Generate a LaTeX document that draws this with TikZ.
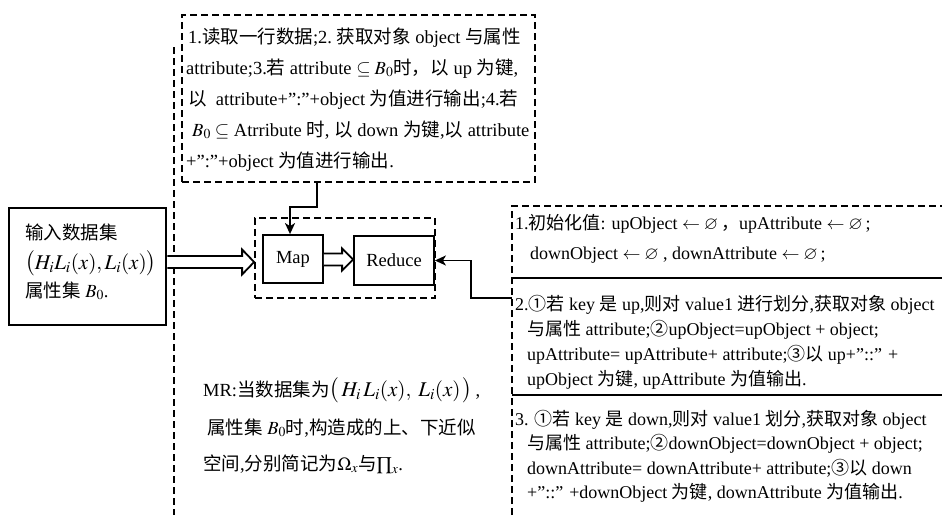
\documentclass[tikz,border=0pt]{standalone}
\usepackage{amssymb}
\usepackage{mathptmx}
\usepackage{fontspec}
\setmainfont{Liberation Serif}
\newfontfamily\cjk{Noto Sans CJK SC}
\newcommand\zh[1]{{\cjk #1}}
\newcommand\fs{\fontsize{18.5}{22}\selectfont}
\newcommand\fr{\fontsize{18}{22}\selectfont}
\newcommand\HLin{{\fontsize{21}{22}\selectfont$\big(H_iL_i(x),L_i(x)\big)$}}
\newcommand\HLsp{{\fontsize{21}{22}\selectfont$\big(\,H_i\,L_i(x),\;L_i(x)\,\big)$}}
\usetikzlibrary{arrows.meta,calc}
\tikzset{
  txt/.style={anchor=base west, inner sep=0pt, font=\fs},
  rtxt/.style={anchor=base west, inner sep=0pt, font=\fr},
  dline/.style={line width=1.8pt, dash pattern=on 7pt off 4pt},
  sbox/.style={draw, line width=1.8pt, inner sep=0pt},
  blockarr/.style={draw, fill=white, line width=1.8pt, line join=miter},
  conn/.style={line width=1.8pt, -{Stealth[length=11pt,width=10pt,inset=3pt]}},
}
\begin{document}
\begin{tikzpicture}[x=1pt,y=-1pt]
\useasboundingbox (0,0) rectangle (942,515);

% long dashed vertical line
\coordinate (vt) at (174,47);
\coordinate (vb) at (174,515);
\draw[dline] (vt) -- (vb);

% top dashed box
\node[draw, dline, minimum width=353pt, minimum height=167pt, inner sep=0pt] (topbox) at (358.5,98.5) {};
\node[txt] (t1) at (188,43) {1.\zh{读取一行数据};2.~\zh{获取对象} object \zh{与属性}};
\node[txt] (t2) at (186,74) {attribute;3.\zh{若} attribute $\subseteq B_0$\zh{时，以} up \zh{为键},};
\node[txt] (t3) at (188,105) {\zh{以}\ \ attribute+”:”+object \zh{为值进行输出};4.\zh{若}};
\node[txt] (t4) at (192,136) {$B_0\subseteq$ Atrribute \zh{时}, \zh{以} down \zh{为键},\zh{以} attribute};
\node[txt] (t5) at (186,167) {+”:”+object \zh{为值进行输出}.};

% input box
\node[sbox, line width=2.6pt, minimum width=157pt, minimum height=117pt] (in) at (87.5,266.5) {};
\node[txt] (i1) at (25,239) {\zh{输入数据集}};
\node[txt] (i2) at (25,269) {\HLin};
\node[txt] (i3) at (25,297) {\zh{属性集} $B_0$.};

% MapReduce dashed box
\node[draw, dline, minimum width=180pt, minimum height=80pt, inner sep=0pt] (mr) at (345,258) {};
\node[sbox, minimum width=60pt, minimum height=48pt, font=\fs] (map) at (293,259) {Map};
\node[sbox, minimum width=80pt, minimum height=49pt, font=\fs] (reduce) at (394,260.5) {Reduce};

% block arrows
\draw[blockarr] (in.east |- 0,256) -- ($(mr.west |- 0,262)+(-12,-6)$) -- ($(mr.west |- 0,262)+(-12,-12.5)$)
  -- (mr.west |- 0,262) -- ($(mr.west |- 0,262)+(-12,12.5)$) -- ($(mr.west |- 0,262)+(-12,6)$) -- (in.east |- 0,268);
\draw[blockarr] (map.east |- 0,253.5) -- ($(reduce.west |- 0,259.5)+(-11,-6)$) -- ($(reduce.west |- 0,259.5)+(-11,-11)$)
  -- (reduce.west |- 0,259.5) -- ($(reduce.west |- 0,259.5)+(-11,11)$) -- ($(reduce.west |- 0,259.5)+(-11,6)$) -- (map.east |- 0,265.5);

% top arrow
\draw[conn] (topbox.south -| 317,0) |- (290,207) -- (map.north -| 290,0);

% right panel
\coordinate (rtl) at (512,206);
\coordinate (rbl) at (512,515);
\coordinate (rtr) at (942,206);
\draw[dline] (rbl) -- (rtl) -- (rtr);
\coordinate (s1l) at (512,278);
\coordinate (s1r) at (942,278);
\coordinate (s2l) at (512,395);
\coordinate (s2r) at (942,395);
\draw[line width=1.8pt] (s1l) -- (s1r);
\draw[line width=1.8pt] (s2l) -- (s2r);
\coordinate (rin) at (512,298);
\draw[conn] (rin) -- (471,298) |- (reduce.east);

\node[rtxt] (r1) at (515,229) {1.\zh{初始化值}: upObject $\leftarrow\varnothing$\,\zh{，}upAttribute $\leftarrow\varnothing$\,;};
\node[rtxt] (r2) at (530,259) {downObject $\leftarrow\varnothing$ , downAttribute $\leftarrow\varnothing$\,;};
\node[rtxt] (r3) at (515,310) {2.\zh{①若} key \zh{是} up,\zh{则对} value1 \zh{进行划分},\zh{获取对象} object};
\node[rtxt] (r4) at (527,335) {\zh{与属性} attribute;\zh{②}upObject=upObject + object;};
\node[rtxt] (r5) at (527,360) {upAttribute= upAttribute+ attribute;\zh{③以} up+”::” +};
\node[rtxt] (r6) at (527,385) {upObject \zh{为键}, upAttribute \zh{为值输出}.};
\node[rtxt] (r7) at (515,425) {3. \zh{①若} key \zh{是} down,\zh{则对} value1 \zh{划分},\zh{获取对象} object};
\node[rtxt] (r8) at (527,449.5) {\zh{与属性} attribute;\zh{②}downObject=downObject + object;};
\node[rtxt] (r9) at (527,474) {downAttribute= downAttribute+ attribute;\zh{③以} down};
\node[rtxt] (r10) at (527,498.5) {+”::” +downObject \zh{为键}, downAttribute \zh{为值输出}.};

% bottom text
\node[txt] (b1) at (203,396) {MR:\zh{当数据集为}\HLsp\,,};
\node[txt] (b2) at (207,434) {\zh{属性集} $B_0$\zh{时},\zh{构造成的上、下近似}};
\node[txt] (b3) at (203,470) {\zh{空间},\zh{分别简记为}$\Omega_x$\zh{与}$\prod_x$.};
\end{tikzpicture}
\end{document}
